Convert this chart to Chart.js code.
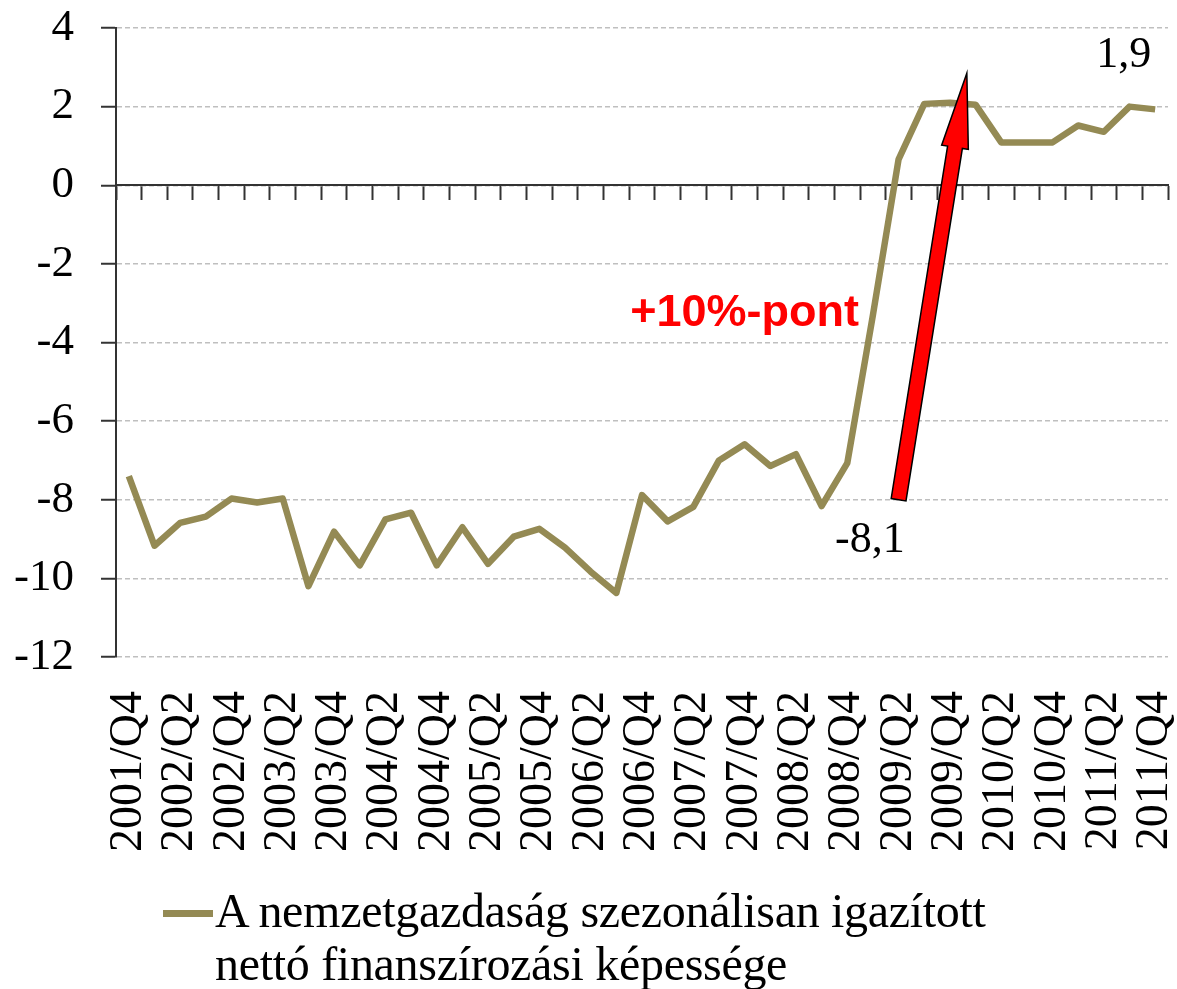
<!DOCTYPE html>
<html lang="hu">
<head>
<meta charset="utf-8">
<title>Nettó finanszírozási képesség</title>
<script src="https://cdn.jsdelivr.net/npm/chart.js@4.4.1/dist/chart.umd.min.js"></script>
<style>
  body { margin: 0; background: #fff; }
  #wrap { position: relative; width: 1177px; height: 989px; }
  #legend {
    position: absolute; left: 163px; top: 884px;
    font: 48px/53px "Liberation Serif", "Times New Roman", serif; color: #000;
    white-space: nowrap; letter-spacing: -0.3px;
  }
  #legend .swatch {
    display: inline-block; width: 50px; height: 7px; background: #948a54;
    vertical-align: middle; margin-right: 2px; position: relative; top: -2px;
  }
  #legend .second { padding-left: 52px; }
</style>
</head>
<body>
<div id="wrap">
  <canvas id="chart" width="1177" height="989"></canvas>
  <div id="legend">
    <div><span class="swatch"></span>A nemzetgazdaság szezonálisan igazított</div>
    <div class="second">nettó finanszírozási képessége</div>
  </div>
</div>
<script>
// quarters 2001/Q4 .. 2011/Q4, only every other one gets a label
const quarters = [
  '2001/Q4',
  '2002/Q1', '2002/Q2', '2002/Q3', '2002/Q4',
  '2003/Q1', '2003/Q2', '2003/Q3', '2003/Q4',
  '2004/Q1', '2004/Q2', '2004/Q3', '2004/Q4',
  '2005/Q1', '2005/Q2', '2005/Q3', '2005/Q4',
  '2006/Q1', '2006/Q2', '2006/Q3', '2006/Q4',
  '2007/Q1', '2007/Q2', '2007/Q3', '2007/Q4',
  '2008/Q1', '2008/Q2', '2008/Q3', '2008/Q4',
  '2009/Q1', '2009/Q2', '2009/Q3', '2009/Q4',
  '2010/Q1', '2010/Q2', '2010/Q3', '2010/Q4',
  '2011/Q1', '2011/Q2', '2011/Q3', '2011/Q4'
];

// szezonálisan igazított nettó finanszírozási képesség, GDP %
const netLending = [
  -7.4, -9.17, -8.59, -8.43, -7.97, -8.07, -7.97, -10.2, -8.81, -9.67,
  -8.5, -8.33, -9.67, -8.7, -9.63, -8.94, -8.74, -9.22, -9.83, -10.37,
  -7.88, -8.55, -8.18, -7.0, -6.59, -7.14, -6.84, -8.16, -7.07, -3.3,
  0.66, 2.07, 2.1, 2.05, 1.09, 1.09, 1.09, 1.52, 1.36, 2.0, 1.93
];

const yMin = -12;
const yMax = 4;
const yStep = 2;

// annotations, in data units: [category index, value]
const arrowFrom = [30, -8.0];
const arrowTo = [32.66, 2.85];
const notes = [
  { text: '+10%-pont', at: [24.0, -3.26], bold: true },
  { text: '-8,1', at: [28.88, -9.03] },
  { text: '1,9', at: [38.78, 3.3] }
];

const lineColor = '#948a54';
const serif = '"Liberation Serif", "Times New Roman", serif';

const annotate = {
  id: 'annotate',
  afterDatasetsDraw(chart) {
    const { ctx, scales: { x, y } } = chart;
    const px = (p) => [x.getPixelForValue(p[0]), y.getPixelForValue(p[1])];

    // red arrow
    const [x0, y0] = px(arrowFrom);
    const [x1, y1] = px(arrowTo);
    const len = Math.hypot(x1 - x0, y1 - y0);
    const ux = (x1 - x0) / len, uy = (y1 - y0) / len;
    const nx = -uy, ny = ux;
    const sw = 7.5, hw = 13.5, hl = 75;
    const bx = x1 - ux * hl, by = y1 - uy * hl;
    ctx.save();
    ctx.beginPath();
    ctx.moveTo(x0 + nx * sw, y0 + ny * sw);
    ctx.lineTo(bx + nx * sw, by + ny * sw);
    ctx.lineTo(bx + nx * hw, by + ny * hw);
    ctx.lineTo(x1, y1);
    ctx.lineTo(bx - nx * hw, by - ny * hw);
    ctx.lineTo(bx - nx * sw, by - ny * sw);
    ctx.lineTo(x0 - nx * sw, y0 - ny * sw);
    ctx.closePath();
    ctx.fillStyle = '#ff0000';
    ctx.fill();
    ctx.lineWidth = 1.5;
    ctx.strokeStyle = '#000';
    ctx.stroke();

    ctx.textAlign = 'center';
    ctx.textBaseline = 'middle';
    notes.forEach((n) => {
      const [tx, ty] = px(n.at);
      if (n.bold) {
        ctx.font = 'bold 45px "Liberation Sans", Arial, sans-serif';
        ctx.fillStyle = '#ff0000';
      } else {
        ctx.font = '44px ' + serif;
        ctx.fillStyle = '#000';
      }
      ctx.fillText(n.text, tx, ty);
    });
    ctx.restore();
  }
};

new Chart(document.getElementById('chart'), {
  type: 'line',
  data: {
    labels: quarters,
    datasets: [{
      label: 'A nemzetgazdaság szezonálisan igazított nettó finanszírozási képessége',
      data: netLending,
      borderColor: lineColor,
      borderWidth: 6.5,
      borderJoinStyle: 'round',
      pointRadius: 0,
      tension: 0,
      fill: false
    }]
  },
  options: {
    responsive: false,
    animation: false,
    layout: { padding: { top: 0, right: 9, bottom: 0, left: 0 } },
    plugins: {
      legend: { display: false },
      tooltip: { enabled: false }
    },
    scales: {
      // axis line at zero with a tick between every quarter
      x: {
        type: 'category',
        position: { y: 0 },
        offset: true,
        grid: {
          offset: true, drawOnChartArea: false, drawTicks: true,
          tickLength: 14, tickColor: '#333', tickWidth: 2
        },
        border: { color: '#333', width: 2 },
        ticks: { display: false, autoSkip: false },
        afterFit: (s) => { s.paddingLeft = 0; s.paddingRight = 0; }
      },
      // quarter labels along the bottom
      xLabels: {
        type: 'category',
        position: 'bottom',
        offset: true,
        grid: { display: false },
        border: { display: false },
        ticks: {
          autoSkip: false, maxRotation: 90, minRotation: 90, padding: 26,
          color: '#000', font: { family: serif, size: 46 },
          callback: (v, i) => (i % 2 === 0 ? quarters[i] : '')
        },
        afterFit: (s) => { s.height = 332; s.paddingLeft = 0; s.paddingRight = 0; }
      },
      y: {
        min: yMin,
        max: yMax,
        ticks: {
          stepSize: yStep, padding: 27, color: '#000',
          font: { family: serif, size: 45 },
          callback: (v) => String(v)
        },
        grid: { color: '#bfbfbf', lineWidth: 1.5, tickColor: '#333', tickLength: 15, tickWidth: 2 },
        border: { color: '#333', width: 2, dash: [5, 3] },
        afterFit: (s) => { s.width = 116; s.paddingTop = 28; s.paddingBottom = 0; }
      }
    }
  },
  plugins: [annotate]
});
</script>
</body>
</html>
